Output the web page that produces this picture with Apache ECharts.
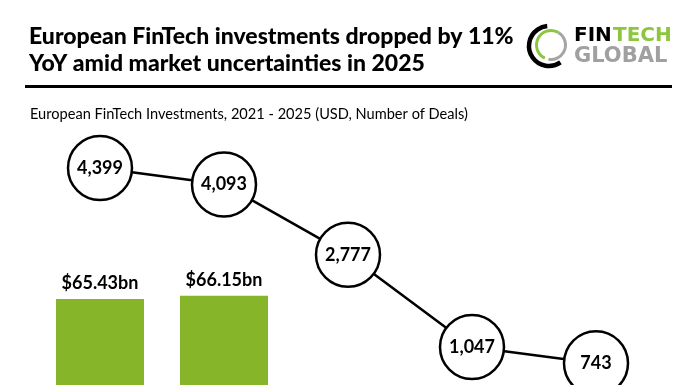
<!DOCTYPE html>
<html><head><meta charset="utf-8">
<script src="https://cdn.jsdelivr.net/npm/echarts@6/dist/echarts.min.js"></script>
<style>html,body{margin:0;padding:0;background:#fff}#c{width:696px;height:385px}</style>
</head><body><div id="c"></div>
<script>
const categories = ['2021', '2022', '2023', '2024', '2025'];
const investments = [65.43, 66.15, 28.9, 20.1, 17.9];
const deals = [4399, 4093, 2777, 1047, 743];

const chart = echarts.init(document.getElementById('c'), null, {renderer: 'canvas'});
const FONT = 'Lato';
const D = Math.PI / 180;
chart.setOption({
  backgroundColor: '#ffffff',
  animation: false,
  title: [
    {text: 'European FinTech investments dropped by 11%\nYoY amid market uncertainties in 2025', left: 24, top: 18,
     textStyle: {fontFamily: FONT, fontWeight: 900, fontSize: 23, lineHeight: 27, color: '#000'}},
    {text: 'European FinTech Investments, 2021 - 2025 (USD, Number of Deals)', left: 25, top: 102,
     textStyle: {fontFamily: FONT, fontWeight: 'normal', fontSize: 14.6, color: '#000'}}
  ],
  graphic: [
    {type: 'rect', shape: {x: 25, y: 85, width: 647, height: 3}, style: {fill: '#000'}},
    {type: 'arc', shape: {cx: 549, cy: 46, r: 20, startAngle: 55 * D, endAngle: 265 * D}, style: {stroke: '#000', lineWidth: 4.5, fill: null}},
    {type: 'arc', shape: {cx: 551, cy: 45, r: 14.5, startAngle: 115 * D, endAngle: 300 * D}, style: {stroke: '#8cc63f', lineWidth: 3, fill: null}},
    {type: 'arc', shape: {cx: 551, cy: 45, r: 14.5, startAngle: -60 * D, endAngle: 100 * D}, style: {stroke: '#a5a5a5', lineWidth: 3, fill: null}},
    {type: 'text', left: 574, top: 26, style: {text: 'FIN', fontFamily: 'DejaVu Sans', fontWeight: 'bold', fontSize: 20, fill: '#000'}},
    {type: 'text', left: 613, top: 26, style: {text: 'TECH', fontFamily: 'DejaVu Sans', fontWeight: 'bold', fontSize: 20, fill: '#8cc63f'}},
    {type: 'text', left: 574, top: 46, style: {text: 'GLOBAL', fontFamily: 'DejaVu Sans', fontWeight: 'bold', fontSize: 21, fill: '#a0a0a0'}}
  ],
  grid: [
    {left: 38, right: 38, top: 140, height: 460, outerBoundsMode: 'none', containLabel: false},
    {left: 38, right: 38, top: 136, height: 267, outerBoundsMode: 'none', containLabel: false}
  ],
  xAxis: [
    {type: 'category', data: categories, gridIndex: 0, show: false},
    {type: 'category', data: categories, gridIndex: 1, show: false}
  ],
  yAxis: [
    {type: 'value', gridIndex: 0, min: 0, max: 100, show: false},
    {type: 'value', gridIndex: 1, min: 0, max: 5000, show: false}
  ],
  series: [
    {type: 'bar', xAxisIndex: 0, yAxisIndex: 0, data: investments, barWidth: 88,
     itemStyle: {color: '#86b52a'},
     label: {show: true, position: 'top', distance: 7, formatter: p => '$' + p.value.toFixed(2) + 'bn',
       fontFamily: FONT, fontWeight: 'bold', fontSize: 18, color: '#000'}},
    {type: 'line', xAxisIndex: 1, yAxisIndex: 1, data: deals, z: 5,
     lineStyle: {color: '#000', width: 2.5},
     symbol: 'circle', symbolSize: 64,
     itemStyle: {color: '#fff', borderColor: '#000', borderWidth: 2.5},
     label: {show: true, position: 'inside', formatter: p => p.value.toLocaleString('en-US'),
       fontFamily: FONT, fontWeight: 'bold', fontSize: 18, color: '#000'}}
  ]
});
</script></body></html>
